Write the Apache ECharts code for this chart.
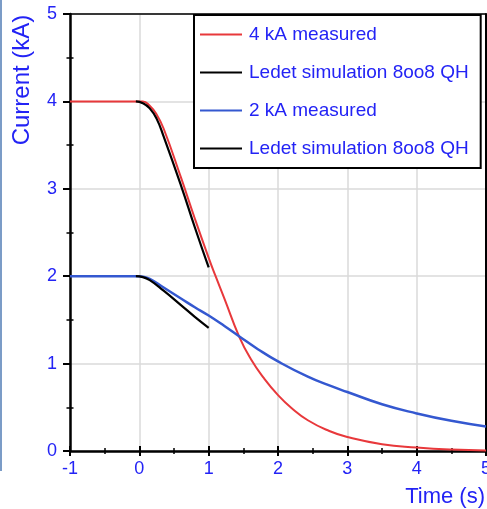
<!DOCTYPE html>
<html>
<head>
<meta charset="utf-8">
<script src="https://cdn.jsdelivr.net/npm/echarts@6/dist/echarts.min.js"></script>
<style>
html,body{margin:0;padding:0;background:#fff;}
#chart{width:487px;height:509px;}
</style>
</head>
<body>
<div id="chart"></div>
<script>
// Time (s) and current (kA) values
const t4Meas = [-1, 0, 0.05, 0.15, 0.25, 0.35, 0.6, 0.8, 1.0, 1.1, 1.227, 1.443, 1.61, 1.8, 2.0, 2.19, 2.43, 2.74, 3.0, 3.5, 4.0, 4.5, 5.0];
const i4Meas = [4, 4, 4.0, 3.95, 3.85, 3.69, 3.13, 2.66, 2.21, 2.0, 1.744, 1.304, 1.05, 0.83, 0.64, 0.495, 0.352, 0.229, 0.16, 0.078, 0.04, 0.016, 0.005];

const t4Sim = [-0.05, 0.05, 0.15, 0.25, 0.35, 0.6, 0.8, 1.0];
const i4Sim = [4.0, 3.98, 3.92, 3.80, 3.60, 3.04, 2.56, 2.10];

const t2Meas = [-1, 0, 0.05, 0.15, 0.35, 0.6, 0.8, 1.0, 1.227, 1.443, 1.71, 2.0, 2.43, 2.74, 3.0, 3.5, 4.0, 4.5, 5.0];
const i2Meas = [2, 2, 1.995, 1.97, 1.87, 1.745, 1.645, 1.55, 1.43, 1.31, 1.165, 1.025, 0.85, 0.75, 0.675, 0.535, 0.43, 0.345, 0.28];

const t2Sim = [-0.05, 0.05, 0.15, 0.35, 0.6, 0.8, 1.0];
const i2Sim = [2.0, 1.99, 1.955, 1.835, 1.67, 1.535, 1.41];

const seriesNames = ['4 kA measured', 'Ledet simulation 8oo8 QH', '2 kA measured', 'Ledet simulation 8oo8 QH '];
const xTicks = { min: -1, max: 5, step: 1 };
const yTicks = { min: 0, max: 5, step: 1 };

const BLUE_TXT = '#2323f5';
const FONT = '"Liberation Sans", Arial, sans-serif';

const pairs = (t, v) => t.map((x, i) => [x, v[i]]);

const chart = echarts.init(document.getElementById('chart'), null, { renderer: 'canvas' });

const baseX = {
  type: 'value', min: xTicks.min, max: xTicks.max, interval: xTicks.step, gridIndex: 0
};
const baseY = {
  type: 'value', min: yTicks.min, max: yTicks.max, interval: yTicks.step, gridIndex: 0
};

function line(name, data, color, width) {
  return {
    name, type: 'line', data, xAxisIndex: 0, yAxisIndex: 0,
    symbol: 'none', showSymbol: false, smooth: 0.5,
    lineStyle: { color, width }, itemStyle: { color },
    animation: false
  };
}

chart.setOption({
  animation: false,
  backgroundColor: '#fff',
  grid: { left: 70, right: 1, top: 14, bottom: 58, containLabel: false, outerBoundsMode: 'none' },
  xAxis: [
    Object.assign({}, baseX, {
      position: 'bottom',
      axisLine: { show: true, onZero: false, lineStyle: { color: '#000', width: 2.5 } },
      axisTick: { show: true, length: 5, lineStyle: { color: '#000', width: 2 } },
      minorTick: { show: true, splitNumber: 2, length: 3, lineStyle: { color: '#000', width: 1.5 } },
      splitLine: { show: true, lineStyle: { color: '#dadada', width: 1.5 } },
      axisLabel: { color: BLUE_TXT, fontSize: 18, fontFamily: FONT, margin: 9 }
    }),
    Object.assign({}, baseX, {
      position: 'bottom',
      axisLine: { show: false, onZero: false },
      axisTick: { show: true, inside: true, length: 5, lineStyle: { color: '#000', width: 2 } },
      minorTick: { show: true, splitNumber: 2, length: 3, lineStyle: { color: '#000', width: 1.5 } },
      splitLine: { show: false },
      axisLabel: { show: false }
    }),
    Object.assign({}, baseX, {
      position: 'top',
      axisLine: { show: true, onZero: false, lineStyle: { color: '#000', width: 1.5 } },
      axisTick: { show: false },
      minorTick: { show: false },
      splitLine: { show: false },
      axisLabel: { show: false }
    })
  ],
  yAxis: [
    Object.assign({}, baseY, {
      position: 'left',
      axisLine: { show: true, onZero: false, lineStyle: { color: '#000', width: 2.5 } },
      axisTick: { show: true, length: 7, lineStyle: { color: '#000', width: 2 } },
      minorTick: { show: true, splitNumber: 2, length: 3.5, lineStyle: { color: '#000', width: 1.5 } },
      splitLine: { show: true, lineStyle: { color: '#dadada', width: 1.5 } },
      axisLabel: { color: BLUE_TXT, fontSize: 18, fontFamily: FONT, margin: 13 }
    }),
    Object.assign({}, baseY, {
      position: 'left',
      axisLine: { show: false, onZero: false },
      axisTick: { show: true, inside: true, length: 1, lineStyle: { color: '#000', width: 2 } },
      minorTick: { show: true, splitNumber: 2, length: 3.5, lineStyle: { color: '#000', width: 1.5 } },
      splitLine: { show: false },
      axisLabel: { show: false }
    }),
    Object.assign({}, baseY, {
      position: 'right',
      axisLine: { show: true, onZero: false, lineStyle: { color: '#000', width: 2 } },
      axisTick: { show: false },
      minorTick: { show: false },
      splitLine: { show: false },
      axisLabel: { show: false }
    })
  ],
  legend: {
    show: true,
    orient: 'vertical',
    left: 194, top: 15,
    padding: [10, 12, 10, 6],
    itemGap: 19,
    itemWidth: 42, itemHeight: 2,
    icon: 'rect',
    backgroundColor: '#fff',
    borderColor: '#000', borderWidth: 2,
    textStyle: { color: BLUE_TXT, fontSize: 19, fontFamily: FONT, padding: [0, 0, 0, 2] },
    data: seriesNames,
    formatter: n => n.trim()
  },
  series: [
    line(seriesNames[0], pairs(t4Meas, i4Meas), '#e8383b', 2),
    line(seriesNames[1], pairs(t4Sim, i4Sim), '#000000', 2.2),
    line(seriesNames[2], pairs(t2Meas, i2Meas), '#3458d0', 2.5),
    line(seriesNames[3], pairs(t2Sim, i2Sim), '#000000', 2.2)
  ],
  graphic: [
    { type: 'rect', left: 0, top: 0, shape: { width: 2, height: 471 }, style: { fill: '#7b9cc7' }, z: 10 },
    { type: 'text', x: 22, y: 80, rotation: Math.PI / 2,
      style: { text: 'Current (kA)', fill: BLUE_TXT, font: '24px ' + FONT, textAlign: 'center', textVerticalAlign: 'middle' } },
    { type: 'text', x: 485, y: 497,
      style: { text: 'Time (s)', fill: BLUE_TXT, font: '22px ' + FONT, textAlign: 'right', textVerticalAlign: 'middle' } }
  ]
});
</script>
</body>
</html>
